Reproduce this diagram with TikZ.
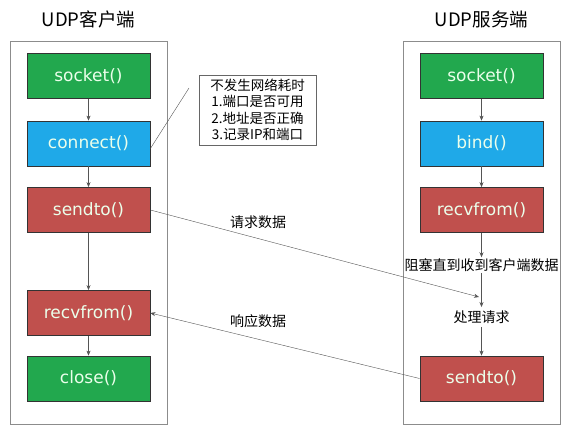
\documentclass[tikz,border=0pt]{standalone}
\usepackage{fontspec}
\setmainfont{DejaVu Sans}
\newfontfamily\cjk{Noto Sans CJK SC}
\usetikzlibrary{arrows.meta}
\definecolor{boxgreen}{HTML}{22A84E}
\definecolor{boxblue}{HTML}{1FA9E8}
\definecolor{boxred}{HTML}{C0504D}
\definecolor{linegray}{HTML}{555555}
\tikzset{
  call/.style={draw=black!80,thick,minimum width=123pt,minimum height=45pt,text=white!92!green,font=\fontsize{17}{20}\selectfont},
  greencall/.style={call,fill=boxgreen},
  bluecall/.style={call,fill=boxblue},
  redcall/.style={call,fill=boxred},
  cn/.style={font=\cjk\fontsize{14}{17}\selectfont},
  flow/.style={draw=linegray,-{Stealth[length=5pt,width=4pt]}},
  panel/.style={draw=black!45,thick}
}
\begin{document}
\begin{tikzpicture}[x=1pt,y=-1pt]
\useasboundingbox (0,0) rectangle (588,426);
\draw[panel] (10,41) rectangle (167,424);
\draw[panel] (403,41) rectangle (560,424);
\node [font=\cjk\fontsize{18.5}{21}\selectfont] (ctitle) at (88.5,19) {UDP客户端};
\node [font=\cjk\fontsize{18.5}{21}\selectfont] (stitle) at (481.5,19) {UDP服务端};

% client
\node [greencall] (csocket) at (88.5,76) {socket()};
\node [bluecall] (connect) at (88.5,143.5) {connect()};
\node [redcall] (csendto) at (88.5,210) {sendto()};
\node [redcall] (crecvfrom) at (88.5,313) {recvfrom()};
\node [greencall] (close) at (88.5,378.5) {close()};
\draw[flow] (csocket)--(connect);
\draw[flow] (connect)--(csendto);
\draw[flow] (csendto)--(crecvfrom);
\draw[flow] (crecvfrom)--(close);

% note
\node [cn,draw=black!60,thick,align=center,minimum width=117pt,minimum height=70pt,inner sep=2pt,font=\cjk\fontsize{13.5}{16.5}\selectfont] (note) at (257.5,110) {不发生网络耗时\\1.端口是否可用\\2.地址是否正确\\3.记录IP和端口};
\coordinate (notetip) at (189,88);
\draw[linegray] ([yshift=-5pt]connect.east)--(notetip);

% server
\node [greencall] (ssocket) at (481.5,76) {socket()};
\node [bluecall] (bind) at (481.5,143.5) {bind()};
\node [redcall] (srecvfrom) at (481.5,210) {recvfrom()};
\node [cn,inner sep=1pt] (block) at (481.5,265) {阻塞直到收到客户端数据};
\node [cn] (handle) at (481.5,317) {处理请求};
\node [redcall] (ssendto) at (481.5,378.5) {sendto()};
\draw[flow] (ssocket)--(bind);
\draw[flow] (bind)--(srecvfrom);
\draw[flow] (srecvfrom)--(block);
\draw[flow] (block)--(handle);
\draw[flow] (handle)--(ssendto);

% data
\coordinate (reqend) at (479,297);
\draw[flow] (csendto.east)--(reqend);
\draw[flow] (ssendto.west)--(crecvfrom.east);
\node [cn] (req) at (258,222) {请求数据};
\node [cn] (resp) at (258,321) {响应数据};
\end{tikzpicture}
\end{document}
